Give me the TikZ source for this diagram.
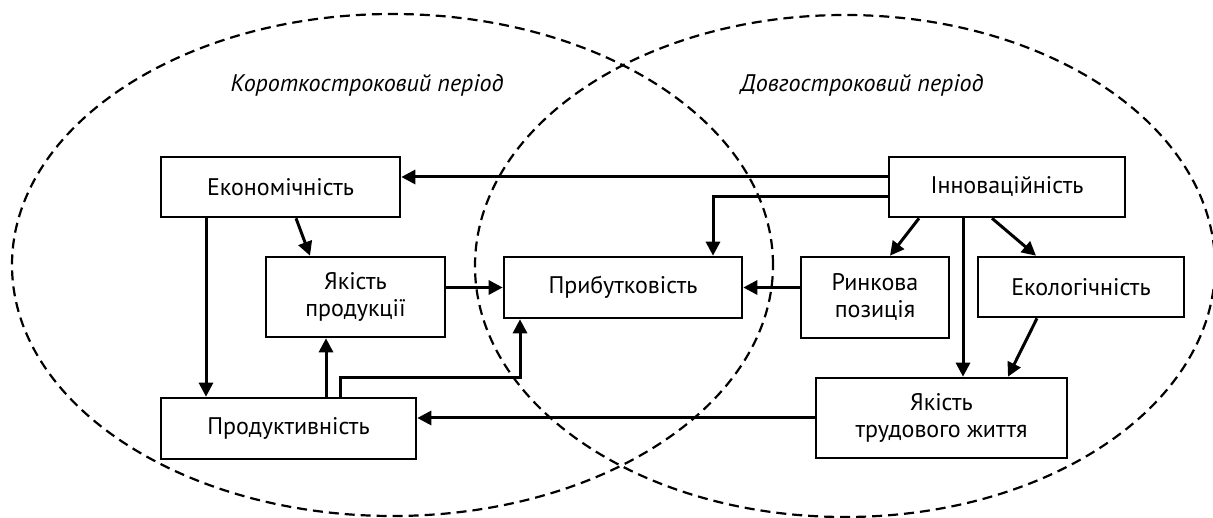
\documentclass[tikz,border=0pt]{standalone}
\usepackage{fontspec}
\setmainfont{PT Sans}
\usetikzlibrary{arrows.meta,calc}
\begin{document}
\begin{tikzpicture}[x=1pt,y=-1pt,
  box/.style={draw, line width=2.6pt, fill=white, inner sep=0pt, align=center,
     font=\fontsize{24}{27}\selectfont},
  arr/.style={line width=3pt, -{Triangle[length=14pt,width=14pt]}},
  oval/.style={line width=2.2pt, dash pattern=on 10pt off 6pt},
  lbl/.style={font=\fontsize{24}{28}\selectfont\itshape}]
\useasboundingbox (0,0) rectangle (1213,518);
\draw[oval] (392.5,265) ellipse [x radius=380.5pt, y radius=251pt];
\draw[oval] (845,266) ellipse [x radius=370pt, y radius=251pt];
\node[lbl] (ls) at (367,85) {Короткостроковий період};
\node[lbl] (ll) at (862,85) {Довгостроковий період};
\node[box, minimum width=239pt, minimum height=60pt] (E) at (280.5,187) {Економічність};
\node[box, minimum width=179pt, minimum height=80pt] (Q) at (355.5,297) {Якість\\продукції};
\node[box, minimum width=255pt, minimum height=61pt] (P) at (288.5,428.5) {Продуктивність};
\node[box, minimum width=238pt, minimum height=61pt] (Pr) at (623,287.5) {Прибутковість};
\node[box, minimum width=148pt, minimum height=81pt] (R) at (875,297.5) {Ринкова\\позиція};
\node[box, minimum width=206pt, minimum height=60pt] (Ek) at (1081,287) {Екологічність};
\node[box, minimum width=236pt, minimum height=60pt] (I) at (1007,187) {Інноваційність};
\node[box, minimum width=251pt, minimum height=80pt] (L) at (941.5,418) {Якість\\трудового життя};
% arrows
\draw[arr] ([yshift=10pt]I.west) -- ([yshift=10pt]E.east);
\draw[arr] ([yshift=-10pt]I.west) -| ([xshift=90pt]Pr.north);
\draw[arr] ([xshift=-88pt]I.south) -- ([xshift=15pt]R.north);
\draw[arr] ([xshift=-15pt]I.south) -- ([xshift=-45pt]Ek.north);
\draw[arr] ([xshift=-44pt]I.south) -- ([xshift=-44pt]I.south |- L.north);
\draw[arr] ([xshift=-44pt]Ek.south) -- ([xshift=66.5pt]L.north);
\draw[arr] (L.west) -- (L.west -| P.east);
\draw[arr] (Pr.east -| R.west) -- (Pr.east);
\draw[arr] ([xshift=-74.5pt]E.south) -- ([xshift=-74.5pt]E.south |- P.north);
\draw[arr] ([xshift=15.5pt]E.south) -- ([xshift=-45.5pt]Q.north);
\draw[arr] (Pr.west -| Q.east) -- (Pr.west);
\draw[arr] ([xshift=-29.5pt]Q.south |- P.north) -- ([xshift=-29.5pt]Q.south);
\draw[arr] ([xshift=51.5pt]P.north) -- ([xshift=51.5pt]P.north |- 0,378) -| ([xshift=-103pt]Pr.south);
\end{tikzpicture}
\end{document}
